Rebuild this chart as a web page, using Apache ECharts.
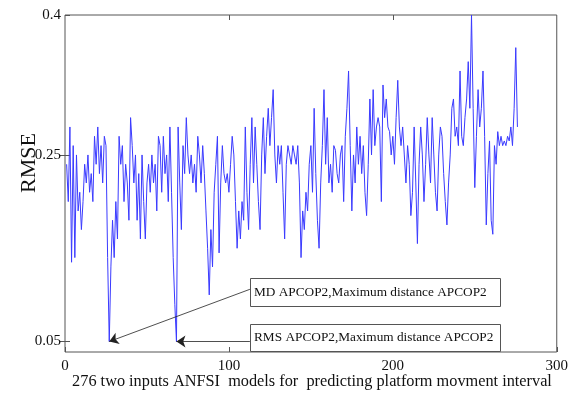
<!DOCTYPE html>
<html>
<head>
<meta charset="utf-8">
<script src="https://cdn.jsdelivr.net/npm/echarts@6/dist/echarts.min.js"></script>
<style>
html,body{margin:0;padding:0;background:#fff;}
#c{width:571px;height:393px;}
</style>
</head>
<body>
<div id="c"></div>
<script>
// RMSE of the 276 two-input ANFIS models (model number 1..276)
const rmse = [
  0.24,0.20,0.28,0.135,0.26,0.14,0.25,0.19,0.21,0.17,
  0.20,0.24,0.22,0.25,0.21,0.23,0.20,0.27,0.24,0.28,
  0.23,0.26,0.22,0.27,0.26,0.14,0.05,0.13,0.18,0.14,
  0.20,0.16,0.27,0.24,0.26,0.20,0.24,0.22,0.18,0.29,
  0.26,0.22,0.25,0.18,0.23,0.16,0.25,0.20,0.16,0.22,
  0.24,0.21,0.25,0.22,0.24,0.19,0.27,0.26,0.21,0.27,
  0.23,0.25,0.20,0.28,0.21,0.14,0.09,0.05,0.28,0.22,
  0.17,0.26,0.23,0.29,0.25,0.23,0.25,0.22,0.24,0.21,
  0.27,0.25,0.22,0.26,0.23,0.19,0.15,0.10,0.17,0.13,
  0.21,0.24,0.27,0.145,0.22,0.26,0.23,0.22,0.23,0.21,
  0.24,0.27,0.25,0.20,0.15,0.19,0.16,0.20,0.18,0.28,
  0.21,0.17,0.24,0.29,0.22,0.28,0.24,0.20,0.17,0.25,
  0.29,0.23,0.27,0.30,0.26,0.29,0.32,0.25,0.22,0.26,
  0.24,0.26,0.21,0.16,0.24,0.26,0.25,0.24,0.26,0.25,
  0.24,0.26,0.22,0.14,0.19,0.17,0.21,0.19,0.24,0.26,
  0.21,0.30,0.23,0.18,0.15,0.22,0.26,0.32,0.24,0.29,
  0.22,0.24,0.21,0.26,0.255,0.23,0.22,0.25,0.26,0.20,
  0.27,0.30,0.34,0.26,0.19,0.25,0.22,0.28,0.24,0.27,
  0.23,0.26,0.21,0.185,0.24,0.31,0.25,0.32,0.26,0.28,
  0.29,0.28,0.20,0.325,0.29,0.31,0.28,0.275,0.25,0.27,
  0.24,0.29,0.33,0.28,0.26,0.28,0.25,0.22,0.26,0.24,
  0.185,0.21,0.28,0.22,0.155,0.24,0.28,0.25,0.20,0.24,
  0.29,0.25,0.22,0.29,0.25,0.21,0.19,0.25,0.28,0.27,
  0.23,0.20,0.175,0.22,0.25,0.30,0.31,0.27,0.28,0.26,
  0.34,0.27,0.26,0.29,0.31,0.35,0.30,0.40,0.30,0.215,
  0.27,0.32,0.28,0.30,0.34,0.27,0.175,0.23,0.265,0.18,
  0.165,0.26,0.24,0.275,0.26,0.27,0.26,0.265,0.26,0.27,
  0.265,0.28,0.26,0.30,0.365,0.28
];
const xTicks = [0, 100, 200, 300];
const yTicks = [0.05, 0.25, 0.4];
const yTicksRight = [0.05, 0.25];
const xTitle = '276 two inputs ANFSI  models for  predicting platform movment interval';
const yTitle = 'RMSE';
// annotation: text, target model, target value, label anchor (data coords)
const notes = [
  {text: 'MD APCOP2,Maximum distance APCOP2', target: [27, 0.05], from: [112.8, 0.106]},
  {text: 'RMS APCOP2,Maximum distance APCOP2', target: [68, 0.05], from: [112.8, 0.05]}
];

const FONT = '"Liberation Serif","Times New Roman",serif';
const frame = '#555';
const chart = echarts.init(document.getElementById('c'), null, {renderer: 'canvas'});

const tickInside = {show: true, inside: true, length: 5, lineStyle: {color: frame, width: 1}};

chart.setOption({
  animation: false,
  backgroundColor: '#fff',
  grid: {left: 65, right: 14, top: 15, bottom: 41, show: true, borderColor: frame, borderWidth: 1, backgroundColor: 'transparent'},
  xAxis: [
    {type: 'value', min: 0, max: 300, interval: 100, position: 'bottom',
     axisLine: {show: false}, splitLine: {show: false},
     axisTick: Object.assign({customValues: xTicks}, tickInside),
     axisLabel: {customValues: xTicks, color: '#111', fontFamily: FONT, fontSize: 15, margin: 7}},
    {type: 'value', min: 0, max: 300, interval: 100, position: 'top',
     axisLine: {show: false}, splitLine: {show: false},
     axisTick: Object.assign({customValues: [100, 200]}, tickInside),
     axisLabel: {show: false}}
  ],
  yAxis: [
    {type: 'value', min: 0.0388, max: 0.4, position: 'left',
     axisLine: {show: false}, splitLine: {show: false},
     axisTick: Object.assign({customValues: yTicks}, tickInside),
     axisLabel: {customValues: yTicks, color: '#111', fontFamily: FONT, fontSize: 15, margin: 4,
                 formatter: v => String(+v.toFixed(2))}},
    {type: 'value', min: 0.0388, max: 0.4, position: 'right',
     axisLine: {show: false}, splitLine: {show: false},
     axisTick: Object.assign({customValues: yTicksRight}, tickInside),
     axisLabel: {show: false}}
  ],
  series: [{
    type: 'line',
    data: rmse.map((v, i) => [i + 1, v]),
    showSymbol: false,
    symbol: 'none',
    lineStyle: {color: '#3a3aff', width: 1},
    silent: true,
    markLine: {
      silent: true,
      symbol: ['none', 'arrow'],
      symbolSize: 9,
      label: {show: false},
      lineStyle: {color: '#222', width: 0.8, type: 'solid'},
      emphasis: {disabled: true},
      data: notes.map(n => [{coord: n.from}, {coord: n.target}])
    }
  }],
  graphic: [
    {type: 'text', x: 29, y: 163, rotation: Math.PI / 2,
     style: {text: yTitle, font: '22px ' + FONT, fill: '#111', textAlign: 'center', textVerticalAlign: 'middle'}},
    {type: 'text', x: 312, y: 382,
     style: {text: xTitle, font: '16.3px ' + FONT, fill: '#111', textAlign: 'center', textVerticalAlign: 'middle'}},
    {type: 'rect', shape: {x: 250.5, y: 278.5, width: 250, height: 28},
     style: {fill: '#fff', stroke: frame, lineWidth: 1}, z: 10},
    {type: 'text', x: 254, y: 292.5, z: 11,
     style: {text: notes[0].text, font: '13.3px ' + FONT, fill: '#111', textVerticalAlign: 'middle'}},
    {type: 'rect', shape: {x: 250.5, y: 324.5, width: 250, height: 27},
     style: {fill: '#fff', stroke: frame, lineWidth: 1}, z: 10},
    {type: 'text', x: 254, y: 337.5, z: 11,
     style: {text: notes[1].text, font: '13.3px ' + FONT, fill: '#111', textVerticalAlign: 'middle'}}
  ]
});
</script>
</body>
</html>
